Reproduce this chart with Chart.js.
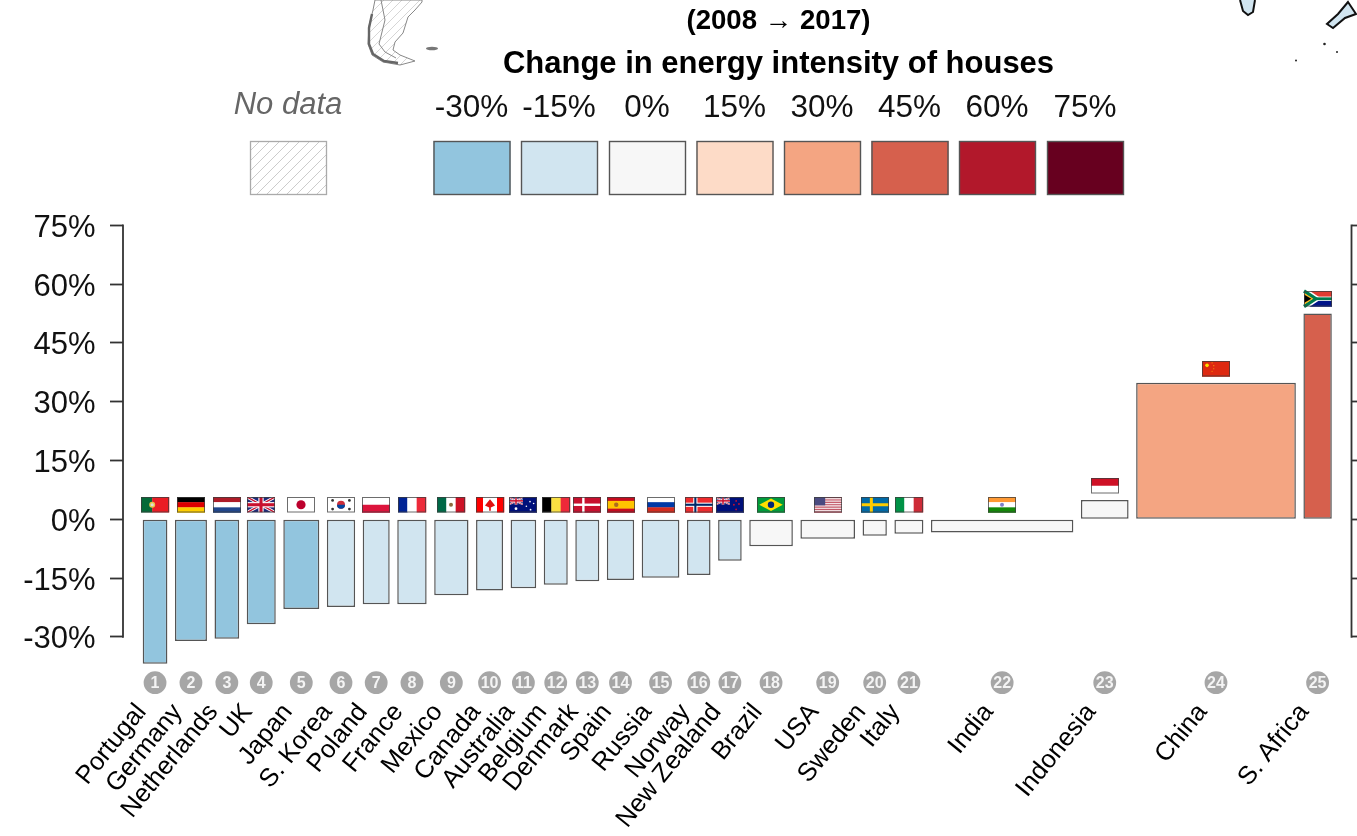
<!DOCTYPE html>
<html>
<head>
<meta charset="utf-8">
<script src="https://cdn.jsdelivr.net/npm/chart.js@4"></script>
<style>
html,body{margin:0;padding:0;background:#fff;overflow:hidden}
#wrap{position:relative;width:1357px;height:836px}
canvas{filter:blur(0.4px)}
</style>
</head>
<body>
<div id="wrap"><canvas id="c" width="1357" height="836"></canvas></div>
<script>
const countries = ["Portugal","Germany","Netherlands","UK","Japan","S. Korea","Poland","France","Mexico","Canada","Australia","Belgium","Denmark","Spain","Russia","Norway","New Zealand","Brazil","USA","Sweden","Italy","India","Indonesia","China","S. Africa"];
const changes = [-36.9,-31.05,-30.5,-26.8,-22.9,-22.4,-21.7,-21.7,-19.4,-18.2,-17.6,-16.7,-15.8,-15.5,-14.9,-14.2,-10.6,-6.9,-5.0,-4.2,-3.7,-3.4,4.9,34.8,52.5];
const barWidths = [24.7,32,24.7,29,36,28.3,27,29.4,34.3,27,25.6,24,24,27.3,37.7,23.6,23.6,43.6,54.6,24.3,29,142.4,47.7,159.7,28.4];
const legendLabels = ["-30%","-15%","0%","15%","30%","45%","60%","75%"];
const legendColors = ["#92c5de","#d1e5f0","#f7f7f7","#fddbc7","#f4a582","#d6604d","#b2182b","#67001f"];
const yTicks = [-30,-15,0,15,30,45,60,75];
const barBins = [0,0,0,0,0,1,1,1,1,1,1,1,1,1,1,1,1,2,2,2,2,2,2,4,5];

const FIRST = 19.7, GAP = 7.55, XMAX = 1228.5;
const lefts = [];
barWidths.reduce((p,w)=>{lefts.push(p);return p+w+GAP;},FIRST);
const centers = lefts.map((l,i)=>l+barWidths[i]/2);
const FONT = '"Liberation Sans", Arial, Helvetica, sans-serif';

class VarBar extends Chart.BarController {
  _calculateBarIndexPixels(index, ruler, options){
    const s = this._cachedMeta.iScale;
    const a = s.getPixelForValue(lefts[index]);
    const b = s.getPixelForValue(lefts[index]+barWidths[index]);
    return {base:a, head:b, center:(a+b)/2, size:b-a};
  }
}
VarBar.id = 'varbar';
VarBar.defaults = Chart.BarController.defaults;
VarBar.overrides = Chart.BarController.overrides;
Chart.register(VarBar);

function flag(ctx,name,x,y,w,h){
  const H=(cols,frac)=>{let p=0;const f=frac||cols.map(()=>1/cols.length);cols.forEach((c,i)=>{ctx.fillStyle=c;ctx.fillRect(x,y+p*h,w,f[i]*h+.3);p+=f[i];});};
  const V=(cols,frac)=>{let p=0;const f=frac||cols.map(()=>1/cols.length);cols.forEach((c,i)=>{ctx.fillStyle=c;ctx.fillRect(x+p*w,y,f[i]*w+.3,h);p+=f[i];});};
  const dot=(fx,fy,r,c)=>{ctx.fillStyle=c;ctx.beginPath();ctx.arc(x+fx*w,y+fy*h,r,0,7);ctx.fill();};
  const cross=(fx,t,c)=>{ctx.fillStyle=c;ctx.fillRect(x+fx*w-t/2,y,t,h);ctx.fillRect(x,y+h/2-t/2,w,t);};
  const union=(ux,uy,uw,uh)=>{
    ctx.save();ctx.beginPath();ctx.rect(ux,uy,uw,uh);ctx.clip();
    ctx.fillStyle='#1f2a7a';ctx.fillRect(ux,uy,uw,uh);
    const ln=(c,t)=>{ctx.strokeStyle=c;ctx.lineWidth=t;ctx.beginPath();ctx.moveTo(ux,uy);ctx.lineTo(ux+uw,uy+uh);ctx.moveTo(ux+uw,uy);ctx.lineTo(ux,uy+uh);ctx.stroke();};
    ln('#fff',uh*.2);ln('#c8102e',uh*.09);
    ctx.fillStyle='#fff';ctx.fillRect(ux+uw/2-uh*.17,uy,uh*.34,uh);ctx.fillRect(ux,uy+uh/2-uh*.17,uw,uh*.34);
    ctx.fillStyle='#c8102e';ctx.fillRect(ux+uw/2-uh*.1,uy,uh*.2,uh);ctx.fillRect(ux,uy+uh/2-uh*.1,uw,uh*.2);
    ctx.restore();
  };
  switch(name){
    case 'Portugal':V(['#046a38','#ea1c24'],[.4,.6]);dot(.4,.5,3,'#e8c84a');dot(.4,.5,1.6,'#ddd');break;
    case 'Germany':H(['#000','#dd0000','#ffce00']);break;
    case 'Netherlands':H(['#ae1c28','#fff','#21468b']);break;
    case 'UK':union(x,y,w,h);break;
    case 'Japan':H(['#fff']);dot(.5,.5,4.6,'#bc002d');break;
    case 'S. Korea':H(['#fff']);dot(.5,.5,4,'#cd2e3a');ctx.fillStyle='#0047a0';ctx.beginPath();ctx.arc(x+w/2,y+h/2,4,0,Math.PI);ctx.fill();
      [[.2,.22],[.8,.22],[.2,.78],[.8,.78]].forEach(p=>dot(p[0],p[1],1.4,'#333'));break;
    case 'Poland':H(['#fff','#dc143c']);break;
    case 'France':V(['#002395','#fff','#ed2939']);break;
    case 'Mexico':V(['#006847','#fff','#ce1126']);dot(.5,.5,2,'#8c6a3c');break;
    case 'Canada':V(['#ff0000','#fff','#ff0000'],[.25,.5,.25]);ctx.fillStyle='#e01010';ctx.beginPath();ctx.moveTo(x+w/2,y+h*.15);ctx.lineTo(x+w*.68,y+h*.55);ctx.lineTo(x+w*.53,y+h*.68);ctx.lineTo(x+w*.53,y+h*.88);ctx.lineTo(x+w*.47,y+h*.88);ctx.lineTo(x+w*.47,y+h*.68);ctx.lineTo(x+w*.32,y+h*.55);ctx.closePath();ctx.fill();break;
    case 'Australia':H(['#00107a']);union(x,y,w/2,h/2);[[.25,.75,1.4],[.62,.6,.8],[.75,.3,.8],[.88,.42,.8],[.77,.82,.9]].forEach(p=>dot(p[0],p[1],p[2],'#fff'));break;
    case 'Belgium':V(['#000','#fae042','#ed2939']);break;
    case 'Denmark':H(['#c8102e']);cross(.37,2.4,'#fff');break;
    case 'Spain':H(['#c60b1e','#ffc400','#c60b1e'],[.25,.5,.25]);dot(.33,.5,2.2,'#ad6a1f');break;
    case 'Russia':H(['#fff','#0039a6','#d52b1e']);break;
    case 'Norway':H(['#ef2b2d']);cross(.37,4.2,'#fff');cross(.37,2.1,'#002868');break;
    case 'New Zealand':H(['#00107a']);union(x,y,w/2,h/2);[[.72,.25],[.64,.5],[.82,.45],[.72,.8]].forEach(p=>dot(p[0],p[1],.9,'#c8102e'));break;
    case 'Brazil':H(['#009c3b']);ctx.fillStyle='#ffdf00';ctx.beginPath();ctx.moveTo(x+w*.08,y+h/2);ctx.lineTo(x+w/2,y+h*.1);ctx.lineTo(x+w*.92,y+h/2);ctx.lineTo(x+w/2,y+h*.9);ctx.closePath();ctx.fill();dot(.5,.5,3.2,'#002776');break;
    case 'USA':{const s=[];for(let i=0;i<13;i++)s.push(i%2?'#f3e3e6':'#c25868');H(s);ctx.fillStyle='#4a4a80';ctx.fillRect(x,y,w*.4,h*.54);break;}
    case 'Sweden':H(['#006aa7']);cross(.37,3,'#fecc00');break;
    case 'Italy':V(['#009246','#fff','#ce2b37']);break;
    case 'India':H(['#ff9933','#fff','#138808']);dot(.5,.5,2,'#7d80c8');break;
    case 'Indonesia':H(['#ce1126','#fff']);break;
    case 'China':H(['#de2910']);dot(.18,.28,1.8,'#ffde00');[[.36,.12],[.42,.3],[.42,.5],[.36,.66]].forEach(p=>dot(p[0],p[1],.6,'#f8a000'));break;
    case 'S. Africa':H(['#e03c31','#001489']);ctx.fillStyle='#fff';ctx.fillRect(x,y+h*.36,w,h*.28);
      ctx.strokeStyle='#fff';ctx.lineWidth=h*.42;ctx.beginPath();ctx.moveTo(x,y);ctx.lineTo(x+w*.42,y+h/2);ctx.lineTo(x,y+h);ctx.stroke();
      ctx.fillStyle='#007a4d';ctx.fillRect(x+w*.42,y+h*.41,w*.58,h*.18);
      ctx.strokeStyle='#007a4d';ctx.lineWidth=h*.22;ctx.beginPath();ctx.moveTo(x,y);ctx.lineTo(x+w*.42,y+h/2);ctx.lineTo(x,y+h);ctx.stroke();
      ctx.fillStyle='#ffb81c';ctx.beginPath();ctx.moveTo(x,y+h*.12);ctx.lineTo(x+w*.33,y+h/2);ctx.lineTo(x,y+h*.88);ctx.fill();
      ctx.fillStyle='#000';ctx.beginPath();ctx.moveTo(x,y+h*.22);ctx.lineTo(x+w*.26,y+h/2);ctx.lineTo(x,y+h*.78);ctx.fill();break;
  }
  ctx.strokeStyle='rgba(60,60,60,.75)';ctx.lineWidth=1;ctx.strokeRect(x+.5,y+.5,w-1,h-1);
}

function hatch(ctx,x,y,w,h,step,color){
  ctx.save();ctx.beginPath();ctx.rect(x,y,w,h);ctx.clip();
  ctx.strokeStyle=color;ctx.lineWidth=1;ctx.beginPath();
  for(let d=-h;d<w+h;d+=step){ctx.moveTo(x+d,y+h);ctx.lineTo(x+d+h,y);}
  ctx.stroke();ctx.restore();
}

function mapBits(ctx){
  ctx.save();
  // southern tip of South America
  const pts=[[375,0],[373,10],[369,26],[368,44],[372,55],[383,62],[400,65],[415,61],[400,55],[393,50],[395,42],[403,33],[408,17],[415,10],[422,2],[422,0]];
  const outline=new Path2D();pts.forEach((p,i)=>i?outline.lineTo(p[0],p[1]):outline.moveTo(p[0],p[1]));outline.closePath();
  ctx.fillStyle='#fff';ctx.fill(outline);
  ctx.save();ctx.clip(outline);hatch(ctx,362,-5,70,75,9,'#d6d6d6');ctx.restore();
  ctx.strokeStyle='#888';ctx.lineWidth=1;ctx.stroke(outline);
  ctx.strokeStyle='#666';ctx.lineWidth=2.4;ctx.beginPath();ctx.moveTo(372,14);ctx.lineTo(369,28);ctx.lineTo(369,44);ctx.lineTo(373,54);ctx.lineTo(384,61);ctx.lineTo(398,63);ctx.stroke();
  ctx.strokeStyle='#888';ctx.lineWidth=1;ctx.beginPath();ctx.moveTo(381,0);ctx.lineTo(385,20);ctx.lineTo(379,44);ctx.lineTo(385,52);ctx.lineTo(396,58);ctx.stroke();
  ctx.fillStyle='#777';ctx.beginPath();ctx.ellipse(432,48.5,6,1.8,0,0,7);ctx.fill();
  // Tasmania
  ctx.strokeStyle='#111';ctx.lineWidth=2;ctx.fillStyle='#d1e5f0';
  ctx.beginPath();ctx.moveTo(1240,0);ctx.lineTo(1243,11);ctx.lineTo(1248,15);ctx.lineTo(1253,12);ctx.lineTo(1255,0);ctx.fill();ctx.stroke();
  // New Zealand south island
  ctx.beginPath();ctx.moveTo(1348,2);ctx.lineTo(1356,14);ctx.lineTo(1345,18);ctx.lineTo(1333,28);ctx.lineTo(1327,24);ctx.lineTo(1338,14);ctx.closePath();ctx.fill();ctx.stroke();
  ctx.fillStyle='#222';[[1324.5,44,1.3],[1337,52,1],[1296,60.5,1]].forEach(d=>{ctx.beginPath();ctx.arc(d[0],d[1],d[2],0,7);ctx.fill();});
  ctx.restore();
}

const decor = {
  id:'decor',
  beforeDraw(chart){
    // centre the two heading lines over the legend rather than over the whole canvas
    chart.boxes.forEach(b=>{ if(b.options && b.options.text) b.left=200; });
  },
  afterDraw(chart){
    const {ctx,scales:{x,y}} = chart;
    ctx.save();
    mapBits(ctx);
    // legend
    ctx.textAlign='center';ctx.textBaseline='middle';
    ctx.font='italic 31px '+FONT;ctx.fillStyle='#666';ctx.fillText('No data',288,105.5);
    ctx.fillStyle='#fff';ctx.fillRect(250,141,77,54);
    hatch(ctx,250,141,77,54,10,'#cccccc');
    ctx.strokeStyle='#aaa';ctx.lineWidth=1.3;ctx.strokeRect(250.5,141.5,76,53);
    const lx=[433.5,521,609,696.5,784,871.5,959,1047];
    legendLabels.forEach((t,i)=>{
      ctx.font='31.5px '+FONT;ctx.fillStyle='#111';ctx.fillText(t,lx[i]+38,108);
      ctx.fillStyle=legendColors[i];ctx.fillRect(lx[i],141,77,54);
      ctx.strokeStyle='#555';ctx.lineWidth=1.4;ctx.strokeRect(lx[i]+.5,141.5,76,53);
    });
    // axis lines
    const t=y.getPixelForValue(75), b=y.getPixelForValue(-30);
    ctx.strokeStyle='#333';ctx.lineWidth=1.8;
    ctx.beginPath();
    ctx.moveTo(chart.chartArea.left,t-.9);ctx.lineTo(chart.chartArea.left,b+.9);
    ctx.moveTo(chart.chartArea.right,t-.9);ctx.lineTo(chart.chartArea.right,b+.9);
    ctx.stroke();
    // flags and badges
    countries.forEach((c,i)=>{
      const cx=x.getPixelForValue(centers[i]);
      const top=y.getPixelForValue(Math.max(changes[i],0));
      flag(ctx,c,Math.round(cx-14),Math.round(top-22),28,15.5);
      ctx.fillStyle='#a6a6a6';ctx.beginPath();ctx.arc(cx,682.7,11.4,0,7);ctx.fill();
      ctx.fillStyle='#f4f4f4';ctx.font='bold 16px '+FONT;ctx.fillText(String(i+1),cx,683.5);
    });
    ctx.restore();
  }
};

new Chart(document.getElementById('c'),{
  type:'varbar',
  plugins:[decor],
  data:{datasets:[{
    data:changes.map((v,i)=>({x:centers[i],y:v})),
    backgroundColor:barBins.map(b=>legendColors[b]),
    borderColor:'#555555',borderWidth:1.5,borderSkipped:false
  }]},
  options:{
    responsive:false,animation:false,
    layout:{padding:0},
    plugins:{
      legend:{display:false},tooltip:{enabled:false},
      title:{display:true,text:'(2008 → 2017)',color:'#000',
        font:{family:FONT,size:27.6,weight:'bold',lineHeight:1.2},
        padding:{top:5,bottom:0},align:'center'},
      subtitle:{display:true,text:'Change in energy intensity of houses',color:'#000',
        font:{family:FONT,size:31,weight:'bold',lineHeight:1.2},
        padding:{top:8,bottom:142},align:'center'}
    },
    scales:{
      x:{type:'linear',min:0,max:XMAX,offset:false,
        border:{display:false},grid:{display:false,offset:false},
        afterBuildTicks(s){s.ticks=centers.map(v=>({value:v}));},
        afterFit(s){s.height=160;s.paddingLeft=0;s.paddingRight=0;},
        ticks:{autoSkip:false,minRotation:51,maxRotation:51,color:'#000',padding:14,labelOffset:-13.5,
          font:{family:FONT,size:25.5},
          callback:(v,i)=>countries[i]}
      },
      y:{type:'linear',position:'left',min:-40,max:75,
        border:{display:false},
        grid:{drawOnChartArea:false,drawTicks:true,tickLength:13,tickWidth:1.8,tickColor:'#333'},
        afterBuildTicks(s){s.ticks=yTicks.map(v=>({value:v}));},
        afterFit(s){s.width=123;},
        ticks:{color:'#111',padding:14.5,labelOffset:3,font:{family:FONT,size:31},callback:v=>v+'%'}
      },
      y2:{type:'linear',position:'right',min:-40,max:75,
        border:{display:false},
        grid:{drawOnChartArea:false,drawTicks:true,tickLength:6,tickWidth:1.8,tickColor:'#333'},
        afterBuildTicks(s){s.ticks=yTicks.map(v=>({value:v}));},
        afterFit(s){s.width=5.5;},
        ticks:{display:false}
      }
    }
  }
});
</script>
</body>
</html>
